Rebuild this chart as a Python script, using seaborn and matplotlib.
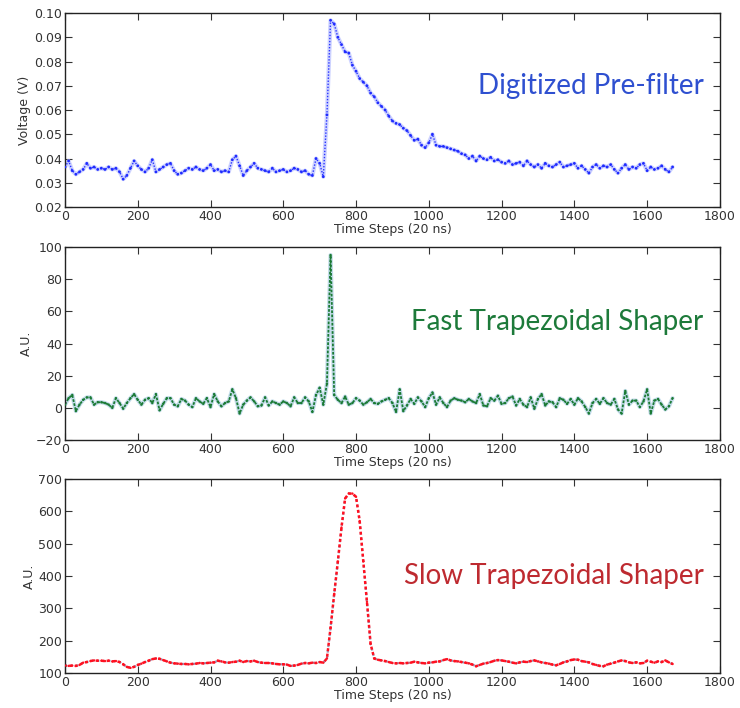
import numpy as np
import pandas as pd
import matplotlib
matplotlib.use("Agg")
import matplotlib.pyplot as plt
import seaborn as sns

# ---------------- data (sampled every 10 time steps) ----------------
time_steps = np.arange(0, 1680, 10)

prefilter_v = [
    0.0365, 0.0390, 0.0350, 0.0335, 0.0345, 0.0355, 0.0380, 0.0360, 0.0365, 0.0355,
    0.0360, 0.0355, 0.0365, 0.0355, 0.0360, 0.0345, 0.0315, 0.0330, 0.0360, 0.0390,
    0.0370, 0.0355, 0.0345, 0.0360, 0.0395, 0.0345, 0.0355, 0.0365, 0.0375, 0.0380,
    0.0350, 0.0335, 0.0340, 0.0350, 0.0360, 0.0355, 0.0365, 0.0355, 0.0350, 0.0360,
    0.0375, 0.0350, 0.0355, 0.0345, 0.0350, 0.0345, 0.0395, 0.0410, 0.0370, 0.0330,
    0.0350, 0.0365, 0.0380, 0.0360, 0.0355, 0.0350, 0.0345, 0.0360, 0.0345, 0.0350,
    0.0355, 0.0345, 0.0350, 0.0360, 0.0355, 0.0345, 0.0350, 0.0335, 0.0330, 0.0400,
    0.0380, 0.0325, 0.0580, 0.0970, 0.0955, 0.0900, 0.0870, 0.0840, 0.0835, 0.0785,
    0.0760, 0.0730, 0.0715, 0.0700, 0.0670, 0.0655, 0.0630, 0.0615, 0.0600, 0.0575,
    0.0555, 0.0545, 0.0540, 0.0525, 0.0515, 0.0495, 0.0475, 0.0480, 0.0455, 0.0445,
    0.0465, 0.0500, 0.0455, 0.0450, 0.0450, 0.0445, 0.0440, 0.0435, 0.0430, 0.0420,
    0.0415, 0.0400, 0.0410, 0.0390, 0.0410, 0.0400, 0.0395, 0.0405, 0.0390, 0.0395,
    0.0385, 0.0380, 0.0390, 0.0375, 0.0380, 0.0385, 0.0370, 0.0390, 0.0375, 0.0365,
    0.0375, 0.0360, 0.0380, 0.0370, 0.0365, 0.0375, 0.0385, 0.0365, 0.0370, 0.0375,
    0.0380, 0.0360, 0.0370, 0.0355, 0.0340, 0.0365, 0.0375, 0.0360, 0.0370, 0.0365,
    0.0375, 0.0355, 0.0340, 0.0360, 0.0375, 0.0355, 0.0365, 0.0360, 0.0375, 0.0380,
    0.0350, 0.0365, 0.0355, 0.0360, 0.0370, 0.0355, 0.0345, 0.0365,
]

fast_shaper = [
    2, 6, 8, -2, 2, 5, 6.5, 6.5, 2, 3.5,
    3.5, 3, 2, 0, 6, 3, -0.5, 3, 6, 8.5,
    5, 2, 5, 6, 3, 8.5, -1.5, 2.5, 6, 6,
    2, 1, 5.5, 4.5, 2, 0.5, 6, 4, 2.5, 6,
    0.5, 8.5, 4, 1, 3, 4, 11.5, 6, -3.5, 2,
    4.5, 6.5, 4, 1, 1.5, 6.5, 1.5, 4, 3, 2,
    4, 3, 1, 6.5, 3, 3, 6.5, 4, -2.5, 8,
    12.5, 2, 15, 95, 8, 5, 3, 7, 2, 3,
    6, 4.5, 2, 3.5, 5.5, 3, 2.5, 4, 5, 6,
    3, -2.5, 11.5, -2, 1.5, 5.5, 2.5, 6.5, 4, 0.5,
    6, 9.5, 2, 6.5, 3, 0.5, 4.5, 6, 5, 4.5,
    3.5, 5.5, 4, 3, 8.5, 1.5, 1, 6, 4.5, 7.5,
    2.5, 3, 6, 7, 1.5, 5.5, 2, 0.5, 6.5, -0.5,
    5.5, 8.5, 1.5, 4, 3.5, 0.5, 6, 5, 2.5, 5.5,
    2, 6, 4, 0.5, -3.5, 3, 5.5, 2.5, 6, 3,
    2, 5.5, -1, -3.5, 10.5, 2, 4.5, 4.5, 0.5, 4,
    11.5, -3.5, 4.5, 5.5, 2, -1, 1, 6,
]

slow_shaper = [
    123, 122, 123, 122, 125, 132, 134, 137, 139, 138,
    138, 137, 138, 136, 137, 134, 127, 119, 116, 119,
    125, 129, 134, 138, 143, 145, 144, 140, 136, 132,
    130, 129, 128, 128, 127, 128, 129, 131, 130, 131,
    132, 133, 138, 136, 133, 132, 134, 135, 138, 134,
    137, 136, 138, 134, 132, 131, 131, 130, 128, 127,
    127, 126, 122, 123, 125, 129, 131, 130, 132, 131,
    134, 132, 145, 240, 345, 445, 550, 640, 655, 655,
    645, 570, 445, 320, 190, 145, 141, 139, 137, 134,
    131, 130, 131, 130, 131, 132, 135, 133, 131, 130,
    132, 133, 135, 136, 140, 143, 139, 137, 136, 134,
    132, 130, 126, 121, 125, 129, 131, 134, 138, 140,
    139, 137, 135, 132, 130, 133, 135, 134, 137, 139,
    136, 133, 131, 129, 126, 124, 128, 133, 136, 140,
    142, 141, 137, 135, 133, 128, 125, 122, 121, 126,
    129, 132, 136, 139, 137, 133, 131, 133, 130, 131,
    138, 135, 132, 136, 134, 139, 133, 128,
]

panel_titles = ["Digitized Pre-filter", "Fast Trapezoidal Shaper", "Slow Trapezoidal Shaper"]
y_labels = ["Voltage (V)", "A.U.", "A.U."]
x_label = "Time Steps (20 ns)"
x_ticks = [0, 200, 400, 600, 800, 1000, 1200, 1400, 1600, 1800]
y_ticks_top = [0.02, 0.03, 0.04, 0.05, 0.06, 0.07, 0.08, 0.09, 0.10]
y_ticks_mid = [-20, 0, 20, 40, 60, 80, 100]
y_ticks_bot = [100, 200, 300, 400, 500, 600, 700]

df = pd.DataFrame({
    "t": time_steps,
    "pre": prefilter_v,
    "fast": fast_shaper,
    "slow": slow_shaper,
})

# ---------------- style ----------------
sns.set_style("ticks")
plt.rcParams["font.family"] = ["DejaVu Sans"]

fig = plt.figure(figsize=(7.4, 7.08), dpi=100)
fig.patch.set_facecolor("white")

ax_pos = [
    [0.0878, 0.7076, 0.885, 0.274],
    [0.0878, 0.3785, 0.885, 0.2726],
    [0.0878, 0.0494, 0.885, 0.274],
]
axes = [fig.add_axes(p) for p in ax_pos]

# Top: digitized pre-filter (blue dots with a soft halo)
sns.lineplot(data=df, x="t", y="pre", ax=axes[0], color="#b8c0ff", lw=3.0, alpha=0.7)
sns.lineplot(data=df, x="t", y="pre", ax=axes[0], color="#2a35ff", lw=1.0,
             linestyle=(0, (1, 1.2)))
sns.scatterplot(data=df, x="t", y="pre", ax=axes[0], color="#1f2bff", s=4,
                edgecolor="none", zorder=3)

# Middle: fast shaper (green trace on a light blue halo)
sns.lineplot(data=df, x="t", y="fast", ax=axes[1], color="#c3dcea", lw=3.0)
sns.lineplot(data=df, x="t", y="fast", ax=axes[1], color="#1b7a34", lw=1.3,
             linestyle=(0, (1.5, 0.8)))
sns.scatterplot(data=df, x="t", y="fast", ax=axes[1], color="#1b7a34", s=3,
                edgecolor="none", zorder=3)

# Bottom: slow shaper (red dotted trace on a grey-blue line)
sns.lineplot(data=df, x="t", y="slow", ax=axes[2], color="#9a98b8", lw=1.6,
             linestyle=(0, (1, 1.5)))
sns.lineplot(data=df, x="t", y="slow", ax=axes[2], color="#ff1020", lw=1.8,
             linestyle=(0.5, (1.2, 1.0)))
sns.scatterplot(data=df, x="t", y="slow", ax=axes[2], color="#ff1020", s=3,
                edgecolor="none", zorder=3)

ylims = [(0.02, 0.10), (-20, 100), (100, 700)]
yticks = [y_ticks_top, y_ticks_mid, y_ticks_bot]
ytick_fmt = [lambda v: f"{v:.2f}", lambda v: f"{v:g}".replace("-", "\u2212"), lambda v: f"{v:g}"]
title_colors = ["#2f50d0", "#1d7a3a", "#be2a30"]
title_y = [0.625, 0.61, 0.50]

for i, ax in enumerate(axes):
    ax.set_xlim(0, 1800)
    ax.set_ylim(*ylims[i])
    ax.set_xticks(x_ticks)
    ax.set_xticklabels([str(v) for v in x_ticks])
    ax.set_yticks(yticks[i])
    ax.set_yticklabels([ytick_fmt[i](v) for v in yticks[i]])
    ax.tick_params(direction="in", top=True, right=True, length=5, width=0.8,
                   labelsize=9, colors="#333333", pad=2)
    for s in ax.spines.values():
        s.set_visible(True)
        s.set_color("#222222")
        s.set_linewidth(1.0)
    ax.set_xlabel(x_label, fontsize=9, color="#333333", labelpad=0)
    ax.set_ylabel(y_labels[i], fontsize=9, color="#333333", labelpad=2)
    ax.text(0.975, title_y[i], panel_titles[i], transform=ax.transAxes,
            ha="right", va="center", fontsize=20, color=title_colors[i],
            family=["Lato", "DejaVu Sans"])

fig.savefig("out.png", dpi=100, facecolor="white")
